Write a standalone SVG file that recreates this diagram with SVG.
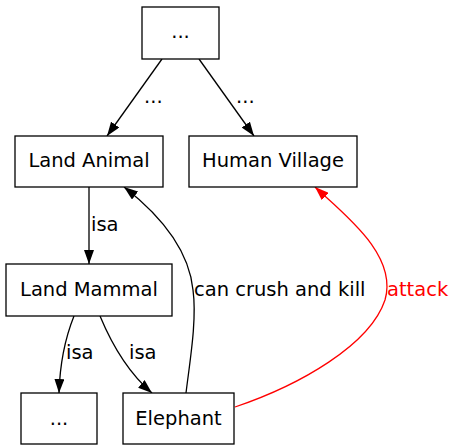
<svg xmlns="http://www.w3.org/2000/svg" width="452" height="445" viewBox="0 0 452 445">
<style>
.box{fill:#fff;stroke:#000;stroke-width:1.3}
text{font-family:"DejaVu Sans",sans-serif;font-size:19.5px;fill:#000}
.n{text-anchor:middle}
.e{fill:none;stroke:#000;stroke-width:1.3}
.r{stroke:#f00}
</style>
<defs>
<marker id="ah" markerUnits="userSpaceOnUse" markerWidth="14" markerHeight="10" refX="14" refY="5" orient="auto"><path d="M0,0 L14,5 L0,10 z" fill="#000"/></marker>
<marker id="ahr" markerUnits="userSpaceOnUse" markerWidth="14" markerHeight="10" refX="14" refY="5" orient="auto"><path d="M0,0 L14,5 L0,10 z" fill="#f00"/></marker>
</defs>
<rect width="452" height="445" fill="#fff"/>
<g id="connectors">
<path class="e" d="M162,59 L107,136" marker-end="url(#ah)"/>
<path class="e" d="M199,59 L254,136" marker-end="url(#ah)"/>
<path class="e" d="M89,187 L89,264" marker-end="url(#ah)"/>
<path class="e" d="M74,316 C66,336 60,360 59,393" marker-end="url(#ah)"/>
<path class="e" d="M100,316 C110,340 125,370 152,393" marker-end="url(#ah)"/>
<path class="e" d="M186,393 C190,360 197,320 193,290 C189,250 160,215 124,187" marker-end="url(#ah)"/>
<path class="e r" d="M235,407 C300,385 370,345 385,300 C398,255 345,215 315,187" marker-end="url(#ahr)"/>
<text x="144" y="103">...</text>
<text x="236" y="103">...</text>
<text x="91" y="231">isa</text>
<text x="66" y="359">isa</text>
<text x="129" y="359">isa</text>
<text x="194" y="296">can crush and kill</text>
<text x="387" y="296" style="fill:#f00">attack</text>
</g>
<g id="top"><rect class="box" x="142" y="7" width="77" height="52"/><text class="n" x="180.5" y="38">...</text></g>
<g id="land-animal"><rect class="box" x="15" y="136" width="148" height="51"/><text class="n" x="89" y="167">Land Animal</text></g>
<g id="human-village"><rect class="box" x="189" y="136" width="168" height="51"/><text class="n" x="273" y="167">Human Village</text></g>
<g id="land-mammal"><rect class="box" x="6" y="264" width="166" height="52"/><text class="n" x="89" y="296">Land Mammal</text></g>
<g id="other"><rect class="box" x="21" y="393" width="76" height="51"/><text class="n" x="59" y="425">...</text></g>
<g id="elephant"><rect class="box" x="123" y="393" width="111" height="51"/><text class="n" x="178.5" y="425">Elephant</text></g>
</svg>
